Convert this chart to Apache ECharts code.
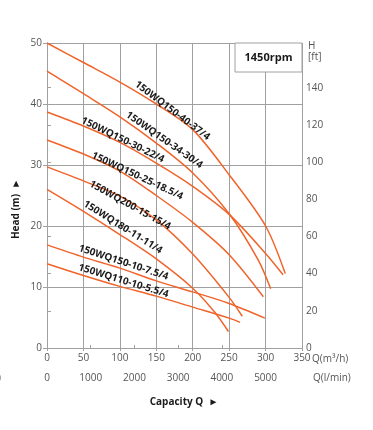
<!DOCTYPE html>
<html><head><meta charset="utf-8">
<script src="https://cdn.jsdelivr.net/npm/echarts@6/dist/echarts.min.js"></script>
<style>html,body{margin:0;padding:0;background:#fff}#c{width:373px;height:430px}</style>
</head><body><div id="c"></div>
<script>
// Curve names
const names = ['150WQ150-40-37/4','150WQ150-34-30/4','150WQ150-30-22/4','150WQ150-25-18.5/4',
  '150WQ200-15-15/4','150WQ180-11-11/4','150WQ150-10-7.5/4','150WQ110-10-5.5/4'];
// Capacity Q (m3/h) and Head H (m) for each curve
const q1 = [0,50,100,150,200,250,300,327];   const h1 = [50,46.8,43.6,40.0,35.8,28.4,20.0,12.2];
const q2 = [0,50,100,150,200,250,290,307];   const h2 = [45.4,41.7,37.9,33.6,28.7,22.0,14.4,9.7];
const q3 = [0,50,100,150,200,250,300,324];   const h3 = [38.7,36.4,33.7,30.3,26.5,21.9,15.5,12.0];
const q4 = [0,50,100,150,200,250,297];       const h4 = [34.1,31.8,29.0,25.0,20.6,15.3,8.4];
const q5 = [0,50,100,150,200,250,268];       const h5 = [29.7,27.4,24.9,21.0,15.4,8.3,5.2];
const q6 = [0,50,100,150,200,230,249];       const h6 = [26.0,22.4,18.6,14.6,9.8,5.9,2.7];
const q7 = [0,50,100,150,200,250,299];       const h7 = [16.9,14.9,13.1,11.0,9.2,7.3,4.9];
const q8 = [0,50,100,150,200,250,265];       const h8 = [13.8,11.9,10.1,8.5,6.7,4.9,4.2];
// Label anchors (Q, H) and angles (deg)
const labelQ = [172,161,104,124,114,104,105,105];
const labelH = [38.9,34.1,34.1,28.2,23.4,19.8,14.0,11.0];
const labelAngle = [37,35,26,25,29,32,18,17];
// Tick labels
const ftTicks = [0,20,40,60,80,100,120,140];

const qs = [q1,q2,q3,q4,q5,q6,q7,q8];
const hs = [h1,h2,h3,h4,h5,h6,h7,h8];
const FONT = 'Open Sans';
const GRID = '#a0a0a0';
const TXT = '#555';
const chart = echarts.init(document.getElementById('c'), null, {renderer:'canvas'});

const series = names.map((n,i)=>({
  name:n, type:'line', xAxisIndex:0, yAxisIndex:0, smooth:0.3, showSymbol:false, symbol:'none',
  lineStyle:{color:'#f0642a', width:1.5}, animation:false,
  data: qs[i].map((q,j)=>[q, hs[i][j]])
}));

chart.setOption({
  animation:false,
  textStyle:{fontFamily:FONT},
  grid:{left:47, right:71, top:43, bottom:82, containLabel:false},
  xAxis:[
    {type:'value', min:0, max:350, interval:50, position:'bottom',
     axisLine:{show:true, lineStyle:{color:GRID}}, axisTick:{show:true, length:3, lineStyle:{color:GRID}},
     splitLine:{show:true, lineStyle:{color:GRID, width:1}},
     axisLabel:{color:TXT, fontSize:10, fontFamily:FONT, margin:5}},
    {type:'value', min:0, max:350*1000/60, interval:1000, position:'bottom', offset:19,
     axisLine:{show:true, lineStyle:{color:GRID}}, axisTick:{show:true, inside:true, length:3, lineStyle:{color:GRID}},
     splitLine:{show:false},
     axisLabel:{color:TXT, fontSize:10, fontFamily:FONT, margin:6,
       formatter:v=> v>5500 ? '' : String(v)}}
  ],
  yAxis:[
    {type:'value', min:0, max:50, interval:10, position:'left',
     axisLine:{show:true, lineStyle:{color:GRID}}, axisTick:{show:true, length:4, lineStyle:{color:GRID}},
     splitLine:{show:true, lineStyle:{color:GRID, width:1}},
     axisLabel:{color:TXT, fontSize:10, fontFamily:FONT, margin:5}},
    {type:'value', min:0, max:50*3.28084, interval:20, position:'right',
     axisLine:{show:true, lineStyle:{color:GRID}},
     axisTick:{show:true, length:4, lineStyle:{color:GRID}, customValues:ftTicks},
     splitLine:{show:false},
     axisLabel:{color:TXT, fontSize:10, fontFamily:FONT, margin:4, customValues:ftTicks}}
  ],
  series: series
});

const g = [];
names.forEach((n,i)=>{
  const p = chart.convertToPixel({gridIndex:0}, [labelQ[i], labelH[i]]);
  g.push({type:'text', x:p[0], y:p[1], rotation:-labelAngle[i]*Math.PI/180, z:10,
    style:{text:n, x:0, y:0, align:'center', verticalAlign:'middle',
      font:'bold 10px "'+FONT+'"', fill:'#1a1a1a'}});
});
const pTR = chart.convertToPixel({gridIndex:0},[350,50]);
const pBL = chart.convertToPixel({gridIndex:0},[0,0]);
// rpm box
g.push({type:'rect', shape:{x:pTR[0]-67, y:pTR[1], width:67, height:29}, z:5,
  style:{fill:'#fff', stroke:GRID, lineWidth:1}});
g.push({type:'text', x:pTR[0]-33.5, y:pTR[1]+14.5, z:6,
  style:{text:'1450rpm', align:'center', verticalAlign:'middle', font:'bold 11px "'+FONT+'"', fill:'#1a1a1a'}});
g.push({type:'text', x:pTR[0]+6, y:pTR[1]+3, style:{text:'H', align:'left', verticalAlign:'middle', font:'10px "'+FONT+'"', fill:TXT}});
g.push({type:'text', x:pTR[0]+6, y:pTR[1]+14, style:{text:'[ft]', align:'left', verticalAlign:'middle', font:'10px "'+FONT+'"', fill:TXT}});
g.push({type:'text', x:pTR[0]+10, y:pBL[1]+11, style:{text:'Q(m³/h)', align:'left', verticalAlign:'middle', font:'10px "'+FONT+'"', fill:TXT}});
g.push({type:'text', x:pTR[0]+11, y:pBL[1]+30, style:{text:'Q(l/min)', align:'left', verticalAlign:'middle', font:'10px "'+FONT+'"', fill:TXT}});
g.push({type:'text', x:184, y:402, style:{text:'Capacity Q  ►', align:'center', verticalAlign:'middle', font:'bold 10px "'+FONT+'"', fill:'#1a1a1a'}});
g.push({type:'text', x:16, y:209, rotation:Math.PI/2, style:{text:'Head (m)  ►', align:'center', verticalAlign:'middle', font:'bold 10px "'+FONT+'"', fill:'#1a1a1a'}});
g.push({type:'text', x:-2, y:378, style:{text:')', align:'left', verticalAlign:'middle', font:'10px "'+FONT+'"', fill:TXT}});
chart.setOption({graphic:g});
</script></body></html>
